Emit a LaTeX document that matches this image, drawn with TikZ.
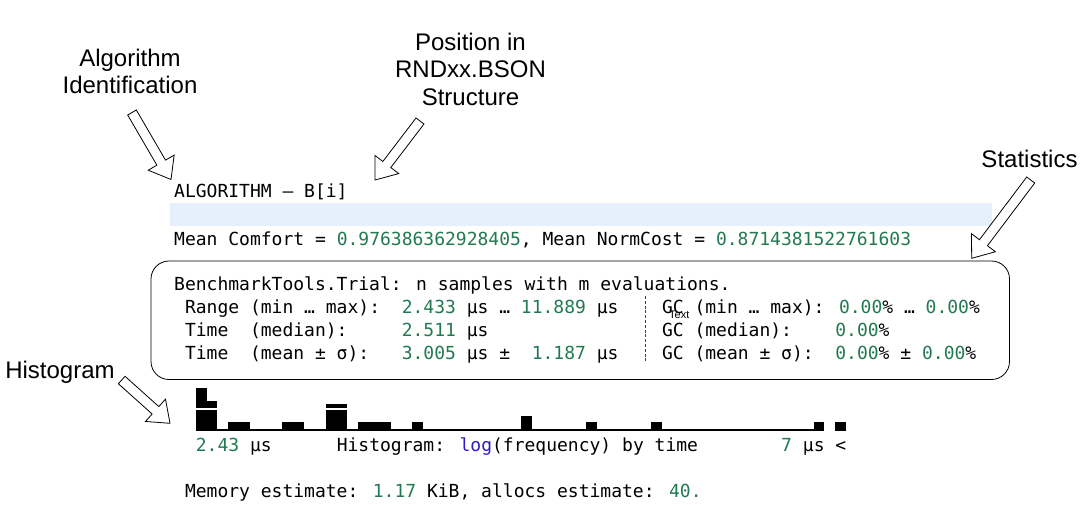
\documentclass[tikz,border=0pt]{standalone}
\usepackage{fontspec}
\setmainfont{Liberation Sans}
\newfontfamily\jlmono{DejaVu Sans Mono}
\usetikzlibrary{calc,positioning}
\definecolor{jlgreen}{RGB}{34,122,82}
\definecolor{jlblue}{RGB}{48,28,196}
\definecolor{jlband}{RGB}{230,240,252}
\newcommand{\jlnum}[1]{\textcolor{jlgreen}{#1}}
\newcommand{\col}[1]{174+(#1)*10.84}

\begin{document}
\begin{tikzpicture}[x=1pt,y=-1pt]
\tikzset{lbl/.style={font=\fontsize{24}{27.5}\selectfont, align=center, inner sep=0pt}}
\tikzset{code/.style={font=\jlmono\fontsize{18}{23}\selectfont, anchor=base west, inner sep=0pt}}
\tikzset{hollow/.style={draw, fill=white, line width=0.8pt,
  to path={let \p1=($(\tikztotarget)!19.5pt!(\tikztostart)$) in
    ($(\tikztostart)!5pt!-90:(\tikztotarget)$) -- ($(\p1)!5pt!-90:(\tikztotarget)$) -- ($(\p1)!15pt!-90:(\tikztotarget)$)
    -- (\tikztotarget) -- ($(\p1)!15pt!90:(\tikztotarget)$) -- ($(\p1)!5pt!90:(\tikztotarget)$) -- ($(\tikztostart)!5pt!90:(\tikztotarget)$) -- cycle}}}
\useasboundingbox (0,0) rectangle (1090,504);
\node[lbl, anchor=north] (algolbl) at (130,48.5) {Algorithm\\Identification};
\node[lbl, anchor=north] (poslbl) at (470.5,32.5) {Position in\\RNDxx.BSON\\Structure};
\node[lbl, anchor=base] (statlbl) at (1029.5,167) {Statistics};
\node[lbl, anchor=base] (histlbl) at (60,378) {Histogram};
\fill[jlband] (170,203) rectangle (992,226);
\node[code] (alg) at (174,197) {ALGORITHM — B[i]};
\node[code] (comfort) at (174,245) {Mean Comfort = \jlnum{0.976386362928405}, Mean NormCost = \jlnum{0.8714381522761603}};
\node[draw, line width=0.8pt, rounded corners=18pt, minimum width=858.5pt, minimum height=118.5pt] (trial) at (580.25,320.25) {};
\node[code] (head) at (174,290) {BenchmarkTools.Trial: n samples with m evaluations.};
\node[code] (range) at ({\col{1}},313) {Range (min … max):~~\jlnum{2.433} μs … \jlnum{11.889} μs};
\node[code] (median) at ({\col{1}},336) {Time~~(median):~~~~~\jlnum{2.511} μs};
\node[code] (mean) at ({\col{1}},359) {Time~~(mean ± σ):~~~\jlnum{3.005} μs ±~~\jlnum{1.187} μs};
\draw[black!75, line width=1.3pt, dash pattern=on 3pt off 1.8pt] ({\col{43}+5.42},296) -- ({\col{43}+5.42},363);
\node[code] (gcrange) at ({\col{45}},313) {GC (min … max): \jlnum{0.00}\% … \jlnum{0.00}\%};
\node[code] (gcmedian) at ({\col{45}},336) {GC (median):~~~~\jlnum{0.00}\%};
\node[code] (gcmean) at ({\col{45}},359) {GC (mean ± σ):~~\jlnum{0.00}\% ± \jlnum{0.00}\%};
\node[font=\fontsize{11}{13}\selectfont, anchor=base west, inner sep=0pt] (txt) at (669,318.5) {Text};
\fill ({\col{2}},428.5) rectangle ({\col{60}},431);
\foreach \c/\h in {0/21,1/21,3/9,4/9,8/9,9/9,12/21,13/21,15/9,16/9,17/9,20/9,30/15,36/9,42/9,57/9,59/9}
  \fill ({\col{2+\c}},431) rectangle +(10.84,-\h);
\foreach \c/\h in {0/20,1/7,12/4,13/4}
  \fill ({\col{2+\c}},408) rectangle +(10.84,-\h);
\node[code] (hmin) at ({\col{2}},451) {\jlnum{2.43} μs};
\node[code] (htitle) at ({\col{15}},451) {Histogram: \textcolor{jlblue}{log}(frequency) by time};
\node[code] (hmax) at ({\col{56}},451) {\jlnum{7} μs <};
\node[code] (mem) at ({\col{1}},497) {Memory estimate: \jlnum{1.17} KiB, allocs estimate: \jlnum{40.}};
\coordinate (algotail) at (132,112.5);
\coordinate (algotip) at (171,179.5);
\coordinate (postail) at (420,121);
\coordinate (postip) at (375,180);
\coordinate (stattail) at (1030.7,180);
\coordinate (stattip) at (971.7,258.3);
\coordinate (histtail) at (121.7,380);
\coordinate (histtip) at (170,423.3);
\draw[hollow] (algotail) to (algotip);
\draw[hollow] (postail) to (postip);
\draw[hollow] (stattail) to (stattip);
\draw[hollow] (histtail) to (histtip);
\end{tikzpicture}
\end{document}
